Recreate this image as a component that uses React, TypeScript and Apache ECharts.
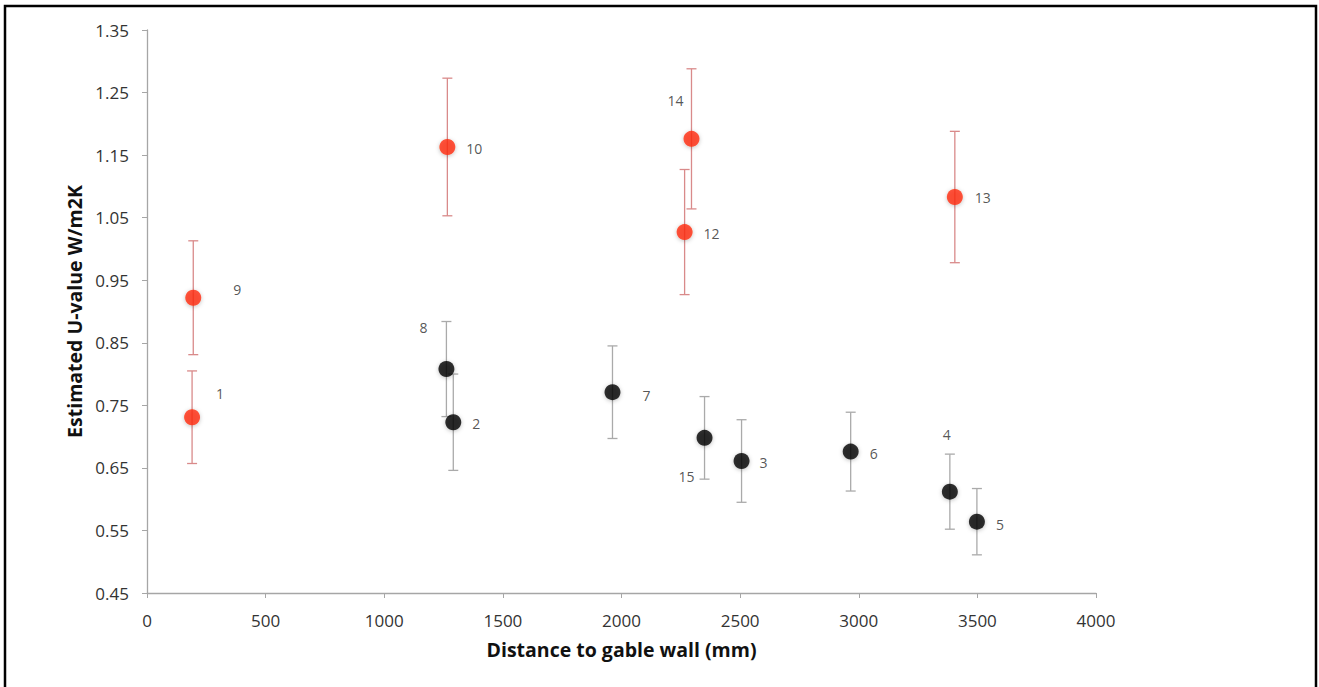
import React, { useEffect, useRef } from "react";
import * as echarts from "echarts";

// Red series (points 1, 9, 10, 12, 13, 14)
const RED_IDS = ["9", "1", "10", "14", "12", "13"];
const RED_X = [195, 190, 1266, 2295, 2266, 3405];
const RED_Y = [0.922, 0.731, 1.163, 1.176, 1.027, 1.083];
const RED_ERR = [0.091, 0.074, 0.11, 0.112, 0.1, 0.105];

// Black series (points 2-8, 15)
const BLACK_IDS = ["8", "2", "7", "15", "3", "6", "4", "5"];
const BLACK_X = [1262, 1291, 1962, 2350, 2506, 2966, 3384, 3498];
const BLACK_Y = [0.808, 0.723, 0.771, 0.698, 0.661, 0.676, 0.612, 0.564];
const BLACK_ERR = [0.076, 0.077, 0.074, 0.066, 0.066, 0.063, 0.06, 0.053];

// Axis settings
const X_MIN = 0;
const X_MAX = 4000;
const X_STEP = 500;
const Y_MIN = 0.45;
const Y_MAX = 1.35;
const Y_STEP = 0.1;

const X_TITLE = "Distance to gable wall (mm)";
const Y_TITLE = "Estimated U-value W/m2K";

// label offsets (layout only)
const LABEL_OFFSETS: Record<string, [number, number]> = {
  "9": [44, -8],
  "1": [28, -24],
  "10": [27, 2],
  "14": [-16, -38],
  "12": [27, 1],
  "13": [28, 0],
  "8": [-23, -42],
  "2": [23, 1],
  "7": [34, 3],
  "15": [-18, 39],
  "3": [22, 1],
  "6": [23, 2],
  "4": [-3, -57],
  "5": [23, 3],
};

const FONT = "'Open Sans', sans-serif";

function errorSeries(xs: number[], ys: number[], errs: number[], color: string) {
  return {
    type: "custom",
    z: 1,
    encode: { x: 0, y: [1, 2] },
    data: xs.map((x, i) => [x, ys[i] - errs[i], ys[i] + errs[i]]),
    renderItem: (params: any, api: any) => {
      const x = api.value(0);
      const lo = api.coord([x, api.value(1)]);
      const hi = api.coord([x, api.value(2)]);
      const hw = 5;
      const style = { stroke: color, lineWidth: 1.3 };
      return {
        type: "group",
        children: [
          { type: "line", shape: { x1: lo[0], y1: lo[1], x2: hi[0], y2: hi[1] }, style },
          { type: "line", shape: { x1: lo[0] - hw, y1: lo[1], x2: lo[0] + hw, y2: lo[1] }, style },
          { type: "line", shape: { x1: hi[0] - hw, y1: hi[1], x2: hi[0] + hw, y2: hi[1] }, style },
        ],
      };
    },
  };
}

function pointSeries(ids: string[], xs: number[], ys: number[], color: string) {
  return {
    type: "scatter",
    z: 3,
    symbolSize: 16,
    itemStyle: {
      color,
      shadowBlur: 4,
      shadowColor: "rgba(0,0,0,0.3)",
      shadowOffsetY: 1,
    },
    data: xs.map((x, i) => ({
      value: [x, ys[i]],
      name: ids[i],
      label: {
        show: true,
        position: "inside",
        offset: LABEL_OFFSETS[ids[i]],
        formatter: ids[i],
        color: "#2a2a2a",
        textBorderWidth: 0,
        fontSize: 14,
        fontFamily: FONT,
      },
    })),
  };
}

export default function App() {
  const ref = useRef<HTMLDivElement>(null);
  useEffect(() => {
    if (!ref.current) return;
    const chart = echarts.init(ref.current, undefined, { renderer: "svg" });
    chart.setOption({
      animation: false,
      backgroundColor: "#fff",
      grid: { left: 147, top: 30, right: 223, bottom: 94, containLabel: false },
      graphic: [
        {
          type: "rect",
          shape: { x: 5, y: 6, width: 1311, height: 700 },
          style: { fill: "none", stroke: "#000", lineWidth: 2.5 },
          silent: true,
        },
      ],
      xAxis: {
        type: "value",
        min: X_MIN,
        max: X_MAX,
        interval: X_STEP,
        name: X_TITLE,
        nameLocation: "middle",
        nameGap: 46,
        nameTextStyle: { fontFamily: FONT, fontWeight: "bold", fontSize: 19.5, color: "#111" },
        axisLine: { lineStyle: { color: "#a6a6a6", width: 1.3 } },
        axisTick: { show: true, length: 5, lineStyle: { color: "#a6a6a6" } },
        axisLabel: {
          fontFamily: FONT,
          fontSize: 17,
          color: "#333",
          margin: 19,
          formatter: (v: number) => String(v),
        },
        splitLine: { show: false },
      },
      yAxis: {
        type: "value",
        min: Y_MIN,
        max: Y_MAX,
        interval: Y_STEP,
        startValue: Y_MIN,
        name: Y_TITLE,
        nameLocation: "middle",
        nameGap: 63,
        nameTextStyle: { fontFamily: FONT, fontWeight: "bold", fontSize: 19.5, color: "#111" },
        axisLine: { show: true, lineStyle: { color: "#a6a6a6", width: 1.3 } },
        axisTick: { show: true, length: 5, lineStyle: { color: "#a6a6a6" } },
        axisLabel: {
          fontFamily: FONT,
          fontSize: 17,
          color: "#333",
          margin: 18,
          formatter: (v: number) => v.toFixed(2),
        },
        splitLine: { show: false },
      },
      series: [
        errorSeries(RED_X, RED_Y, RED_ERR, "#d98a8a"),
        errorSeries(BLACK_X, BLACK_Y, BLACK_ERR, "#aaaaaa"),
        pointSeries(RED_IDS, RED_X, RED_Y, "#ff2a0a"),
        pointSeries(BLACK_IDS, BLACK_X, BLACK_Y, "#000000"),
      ],
    });
    return () => chart.dispose();
  }, []);
  return (
    <div
      ref={ref}
      style={{ position: "absolute", left: 0, top: 0, width: 1319, height: 687 }}
    />
  );
}
